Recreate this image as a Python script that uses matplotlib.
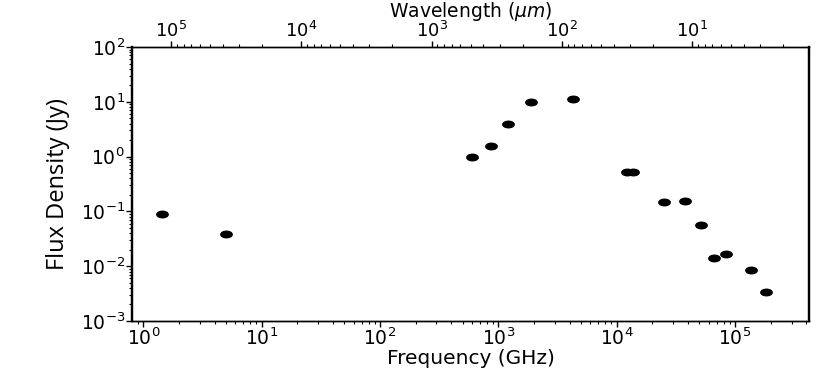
"""Spectral energy distribution: flux density vs frequency, wavelength on top axis."""

import matplotlib
import matplotlib.pyplot as plt
import numpy as np
from matplotlib.path import Path
from matplotlib.transforms import Affine2D

matplotlib.use('Agg')

# frequency in GHz, flux density in Jy
freq_ghz = [1.45, 5.0, 598, 861, 1200, 1870, 4250, 12300, 13700,
            24900, 37500, 51500, 66000, 83400, 1.36e5, 1.81e5]
flux_jy = [0.090, 0.039, 1.00, 1.56, 3.9, 10.0, 11.2, 0.52, 0.53,
           0.147, 0.153, 0.0565, 0.0141, 0.0167, 0.0084, 0.00343]

freq_lim = (10 ** -0.096, 10 ** 5.627)
wave_lim = (10 ** 5.30, 10 ** 0.10)
flux_lim = (1e-3, 1e2)

# the reference is horizontally stretched, so the dots come out as ellipses
circle = Path.unit_circle()
ellipse = Path(Affine2D().scale(1.75, 1.0).transform(circle.vertices), circle.codes)

fig = plt.figure(figsize=(8.3, 3.71), dpi=100)
ax = fig.add_axes([0.159, 0.1348, 0.816, 0.7385])

ax.plot(freq_ghz, flux_jy, linestyle='none', marker=ellipse, markersize=8.2,
        color='black')
ax.set_xscale('log')
ax.set_yscale('log')
ax.set_xlim(*freq_lim)
ax.set_ylim(*flux_lim)
ax.set_xlabel('Frequency (GHz)', fontsize=14.5, labelpad=0)
ax.set_ylabel('Flux Density (Jy)', fontsize=17, family='Open Sans', labelpad=8)
ax.tick_params(axis='both', which='major', labelsize=13.5, length=4, width=1, pad=1)
ax.tick_params(axis='both', which='minor', length=2, width=0.8)
ax.tick_params(axis='y', right=False)

top = ax.twiny()
top.set_xscale('log')
top.set_xlim(*wave_lim)
top.set_xlabel('Wavelength ($\\mu m$)', fontsize=13.5, labelpad=3)
top.tick_params(axis='x', which='major', labelsize=13, length=4, width=1, pad=0)
top.tick_params(axis='x', which='minor', length=2, width=0.8)

for a in (ax, top):
    a.spines['left'].set_linewidth(1.6)
    a.spines['right'].set_linewidth(1.6)
    a.spines['top'].set_linewidth(1.0)
    a.spines['bottom'].set_linewidth(1.0)

fig.savefig('out.png', dpi=100)
plt.close(fig)
